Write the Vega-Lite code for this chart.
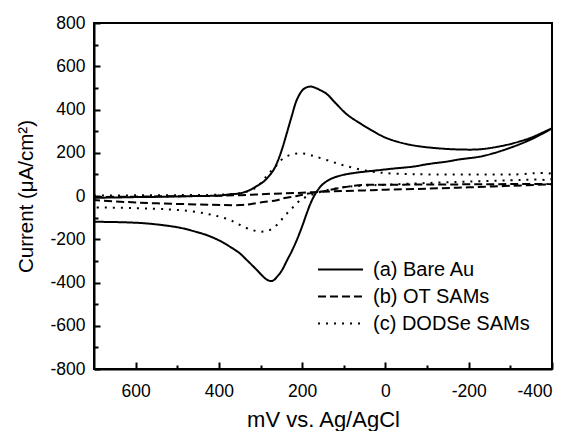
{
  "$schema": "https://vega.github.io/schema/vega-lite/v6.json",
  "width": 458,
  "height": 346,
  "autosize": {"type": "none"},
  "padding": {"left": 94, "top": 23, "right": 20, "bottom": 62},
  "background": "white",
  "config": {
    "font": "Liberation Sans",
    "view": {"stroke": "black", "strokeWidth": 2},
    "axis": {
      "grid": false,
      "domainColor": "black",
      "domainWidth": 2,
      "tickColor": "black",
      "tickWidth": 2,
      "labelColor": "black",
      "labelFontSize": 17.5,
      "titleColor": "black",
      "titleFontWeight": "normal",
      "labelExpr": "replace(datum.label, '−', '-')"
    }
  },
  "data": {"values": [
    {"s":"(a) Bare Au","i":1,"x":700,"y":-8},{"s":"(a) Bare Au","i":2,"x":650,"y":-7},{"s":"(a) Bare Au","i":3,"x":600,"y":-5},{"s":"(a) Bare Au","i":4,"x":550,"y":-4},{"s":"(a) Bare Au","i":5,"x":500,"y":-2},{"s":"(a) Bare Au","i":6,"x":450,"y":0},{"s":"(a) Bare Au","i":7,"x":400,"y":2},{"s":"(a) Bare Au","i":8,"x":373,"y":8},{"s":"(a) Bare Au","i":9,"x":350,"y":12},{"s":"(a) Bare Au","i":10,"x":325,"y":28},{"s":"(a) Bare Au","i":11,"x":310,"y":45},{"s":"(a) Bare Au","i":12,"x":293,"y":66},{"s":"(a) Bare Au","i":13,"x":280,"y":92},{"s":"(a) Bare Au","i":14,"x":269,"y":120},{"s":"(a) Bare Au","i":15,"x":259,"y":160},{"s":"(a) Bare Au","i":16,"x":249,"y":213},{"s":"(a) Bare Au","i":17,"x":237,"y":290},{"s":"(a) Bare Au","i":18,"x":225,"y":370},{"s":"(a) Bare Au","i":19,"x":213,"y":444},{"s":"(a) Bare Au","i":20,"x":200,"y":488},{"s":"(a) Bare Au","i":21,"x":190,"y":502},{"s":"(a) Bare Au","i":22,"x":179,"y":506},{"s":"(a) Bare Au","i":23,"x":168,"y":500},{"s":"(a) Bare Au","i":24,"x":155,"y":488},{"s":"(a) Bare Au","i":25,"x":141,"y":472},{"s":"(a) Bare Au","i":26,"x":120,"y":430},{"s":"(a) Bare Au","i":27,"x":93,"y":378},{"s":"(a) Bare Au","i":28,"x":60,"y":335},{"s":"(a) Bare Au","i":29,"x":30,"y":300},{"s":"(a) Bare Au","i":30,"x":0,"y":270},{"s":"(a) Bare Au","i":31,"x":-40,"y":245},{"s":"(a) Bare Au","i":32,"x":-80,"y":230},{"s":"(a) Bare Au","i":33,"x":-130,"y":220},{"s":"(a) Bare Au","i":34,"x":-180,"y":215},{"s":"(a) Bare Au","i":35,"x":-227,"y":216},{"s":"(a) Bare Au","i":36,"x":-270,"y":228},{"s":"(a) Bare Au","i":37,"x":-307,"y":244},{"s":"(a) Bare Au","i":38,"x":-350,"y":270},{"s":"(a) Bare Au","i":39,"x":-400,"y":313},
    {"s":"(a) Bare Au","i":40,"x":-350,"y":262},{"s":"(a) Bare Au","i":41,"x":-307,"y":228},{"s":"(a) Bare Au","i":42,"x":-260,"y":198},{"s":"(a) Bare Au","i":43,"x":-227,"y":182},{"s":"(a) Bare Au","i":44,"x":-180,"y":170},{"s":"(a) Bare Au","i":45,"x":-147,"y":159},{"s":"(a) Bare Au","i":46,"x":-100,"y":147},{"s":"(a) Bare Au","i":47,"x":-67,"y":136},{"s":"(a) Bare Au","i":48,"x":-20,"y":127},{"s":"(a) Bare Au","i":49,"x":13,"y":120},{"s":"(a) Bare Au","i":50,"x":61,"y":110},{"s":"(a) Bare Au","i":51,"x":90,"y":102},{"s":"(a) Bare Au","i":52,"x":109,"y":94},{"s":"(a) Bare Au","i":53,"x":130,"y":80},{"s":"(a) Bare Au","i":54,"x":149,"y":57},{"s":"(a) Bare Au","i":55,"x":160,"y":34},{"s":"(a) Bare Au","i":56,"x":169,"y":8},{"s":"(a) Bare Au","i":57,"x":179,"y":-30},{"s":"(a) Bare Au","i":58,"x":189,"y":-80},{"s":"(a) Bare Au","i":59,"x":200,"y":-140},{"s":"(a) Bare Au","i":60,"x":213,"y":-204},{"s":"(a) Bare Au","i":61,"x":225,"y":-255},{"s":"(a) Bare Au","i":62,"x":237,"y":-300},{"s":"(a) Bare Au","i":63,"x":249,"y":-345},{"s":"(a) Bare Au","i":64,"x":261,"y":-375},{"s":"(a) Bare Au","i":65,"x":267,"y":-387},{"s":"(a) Bare Au","i":66,"x":273,"y":-393},{"s":"(a) Bare Au","i":67,"x":280,"y":-391},{"s":"(a) Bare Au","i":68,"x":287,"y":-384},{"s":"(a) Bare Au","i":69,"x":293,"y":-374},{"s":"(a) Bare Au","i":70,"x":310,"y":-340},{"s":"(a) Bare Au","i":71,"x":333,"y":-296},{"s":"(a) Bare Au","i":72,"x":350,"y":-265},{"s":"(a) Bare Au","i":73,"x":373,"y":-235},{"s":"(a) Bare Au","i":74,"x":400,"y":-205},{"s":"(a) Bare Au","i":75,"x":429,"y":-181},{"s":"(a) Bare Au","i":76,"x":460,"y":-163},{"s":"(a) Bare Au","i":77,"x":493,"y":-147},{"s":"(a) Bare Au","i":78,"x":530,"y":-136},{"s":"(a) Bare Au","i":79,"x":573,"y":-127},{"s":"(a) Bare Au","i":80,"x":620,"y":-122},{"s":"(a) Bare Au","i":81,"x":700,"y":-119},

    {"s":"(b) OT SAMs","i":1,"x":700,"y":-5},{"s":"(b) OT SAMs","i":2,"x":600,"y":-3},{"s":"(b) OT SAMs","i":3,"x":500,"y":-1},{"s":"(b) OT SAMs","i":4,"x":400,"y":1},{"s":"(b) OT SAMs","i":5,"x":349,"y":4},{"s":"(b) OT SAMs","i":6,"x":300,"y":8},{"s":"(b) OT SAMs","i":7,"x":250,"y":12},{"s":"(b) OT SAMs","i":8,"x":200,"y":15},{"s":"(b) OT SAMs","i":9,"x":150,"y":20},{"s":"(b) OT SAMs","i":10,"x":100,"y":23},{"s":"(b) OT SAMs","i":11,"x":50,"y":26},{"s":"(b) OT SAMs","i":12,"x":0,"y":29},{"s":"(b) OT SAMs","i":13,"x":-100,"y":34},{"s":"(b) OT SAMs","i":14,"x":-200,"y":40},{"s":"(b) OT SAMs","i":15,"x":-300,"y":47},{"s":"(b) OT SAMs","i":16,"x":-400,"y":55},
    {"s":"(b) OT SAMs","i":17,"x":-300,"y":55},{"s":"(b) OT SAMs","i":18,"x":-200,"y":54},{"s":"(b) OT SAMs","i":19,"x":-100,"y":53},{"s":"(b) OT SAMs","i":20,"x":0,"y":52},{"s":"(b) OT SAMs","i":21,"x":65,"y":50},{"s":"(b) OT SAMs","i":22,"x":100,"y":40},{"s":"(b) OT SAMs","i":23,"x":133,"y":28},{"s":"(b) OT SAMs","i":24,"x":149,"y":22},{"s":"(b) OT SAMs","i":25,"x":189,"y":10},{"s":"(b) OT SAMs","i":26,"x":213,"y":0},{"s":"(b) OT SAMs","i":27,"x":245,"y":-10},{"s":"(b) OT SAMs","i":28,"x":261,"y":-20},{"s":"(b) OT SAMs","i":29,"x":293,"y":-28},{"s":"(b) OT SAMs","i":30,"x":325,"y":-38},{"s":"(b) OT SAMs","i":31,"x":349,"y":-42},{"s":"(b) OT SAMs","i":32,"x":389,"y":-42},{"s":"(b) OT SAMs","i":33,"x":450,"y":-39},{"s":"(b) OT SAMs","i":34,"x":549,"y":-34},{"s":"(b) OT SAMs","i":35,"x":620,"y":-28},{"s":"(b) OT SAMs","i":36,"x":700,"y":-19},

    {"s":"(c) DODSe SAMs","i":1,"x":700,"y":2},{"s":"(c) DODSe SAMs","i":2,"x":600,"y":3},{"s":"(c) DODSe SAMs","i":3,"x":500,"y":4},{"s":"(c) DODSe SAMs","i":4,"x":400,"y":6},{"s":"(c) DODSe SAMs","i":5,"x":360,"y":10},{"s":"(c) DODSe SAMs","i":6,"x":330,"y":22},{"s":"(c) DODSe SAMs","i":7,"x":310,"y":40},{"s":"(c) DODSe SAMs","i":8,"x":295,"y":70},{"s":"(c) DODSe SAMs","i":9,"x":280,"y":105},{"s":"(c) DODSe SAMs","i":10,"x":270,"y":125},{"s":"(c) DODSe SAMs","i":11,"x":261,"y":143},{"s":"(c) DODSe SAMs","i":12,"x":251,"y":165},{"s":"(c) DODSe SAMs","i":13,"x":241,"y":179},{"s":"(c) DODSe SAMs","i":14,"x":229,"y":190},{"s":"(c) DODSe SAMs","i":15,"x":217,"y":195},{"s":"(c) DODSe SAMs","i":16,"x":205,"y":197},{"s":"(c) DODSe SAMs","i":17,"x":193,"y":195},{"s":"(c) DODSe SAMs","i":18,"x":181,"y":190},{"s":"(c) DODSe SAMs","i":19,"x":169,"y":182},{"s":"(c) DODSe SAMs","i":20,"x":150,"y":172},{"s":"(c) DODSe SAMs","i":21,"x":129,"y":159},{"s":"(c) DODSe SAMs","i":22,"x":110,"y":147},{"s":"(c) DODSe SAMs","i":23,"x":89,"y":136},{"s":"(c) DODSe SAMs","i":24,"x":60,"y":122},{"s":"(c) DODSe SAMs","i":25,"x":30,"y":112},{"s":"(c) DODSe SAMs","i":26,"x":0,"y":106},{"s":"(c) DODSe SAMs","i":27,"x":-50,"y":102},{"s":"(c) DODSe SAMs","i":28,"x":-100,"y":100},{"s":"(c) DODSe SAMs","i":29,"x":-200,"y":99},{"s":"(c) DODSe SAMs","i":30,"x":-300,"y":99},{"s":"(c) DODSe SAMs","i":31,"x":-400,"y":100},
    {"s":"(c) DODSe SAMs","i":32,"x":-400,"y":80},{"s":"(c) DODSe SAMs","i":33,"x":-350,"y":76},{"s":"(c) DODSe SAMs","i":34,"x":-300,"y":73},{"s":"(c) DODSe SAMs","i":35,"x":-200,"y":67},{"s":"(c) DODSe SAMs","i":36,"x":-100,"y":60},{"s":"(c) DODSe SAMs","i":37,"x":0,"y":52},{"s":"(c) DODSe SAMs","i":38,"x":50,"y":48},{"s":"(c) DODSe SAMs","i":39,"x":90,"y":43},{"s":"(c) DODSe SAMs","i":40,"x":120,"y":35},{"s":"(c) DODSe SAMs","i":41,"x":150,"y":22},{"s":"(c) DODSe SAMs","i":42,"x":170,"y":10},{"s":"(c) DODSe SAMs","i":43,"x":185,"y":0},{"s":"(c) DODSe SAMs","i":44,"x":201,"y":-14},{"s":"(c) DODSe SAMs","i":45,"x":211,"y":-30},{"s":"(c) DODSe SAMs","i":46,"x":221,"y":-50},{"s":"(c) DODSe SAMs","i":47,"x":231,"y":-70},{"s":"(c) DODSe SAMs","i":48,"x":241,"y":-90},{"s":"(c) DODSe SAMs","i":49,"x":251,"y":-113},{"s":"(c) DODSe SAMs","i":50,"x":261,"y":-134},{"s":"(c) DODSe SAMs","i":51,"x":271,"y":-150},{"s":"(c) DODSe SAMs","i":52,"x":281,"y":-160},{"s":"(c) DODSe SAMs","i":53,"x":291,"y":-164},{"s":"(c) DODSe SAMs","i":54,"x":301,"y":-165},{"s":"(c) DODSe SAMs","i":55,"x":313,"y":-161},{"s":"(c) DODSe SAMs","i":56,"x":325,"y":-154},{"s":"(c) DODSe SAMs","i":57,"x":337,"y":-145},{"s":"(c) DODSe SAMs","i":58,"x":349,"y":-134},{"s":"(c) DODSe SAMs","i":59,"x":361,"y":-123},{"s":"(c) DODSe SAMs","i":60,"x":373,"y":-111},{"s":"(c) DODSe SAMs","i":61,"x":400,"y":-95},{"s":"(c) DODSe SAMs","i":62,"x":430,"y":-82},{"s":"(c) DODSe SAMs","i":63,"x":469,"y":-70},{"s":"(c) DODSe SAMs","i":64,"x":520,"y":-62},{"s":"(c) DODSe SAMs","i":65,"x":600,"y":-56},{"s":"(c) DODSe SAMs","i":66,"x":700,"y":-53}
  ]},
  "layer": [
    {
      "mark": {"type": "line", "color": "black", "strokeWidth": 2, "interpolate": "catmull-rom", "clip": true},
      "encoding": {
        "x": {"field": "x", "type": "quantitative", "scale": {"domain": [-400, 700], "reverse": true, "nice": false, "zero": false},
              "axis": {"orient": "bottom", "values": [600, 400, 200, 0, -200, -400], "ticks": false, "labelPadding": 13, "title": "mV vs. Ag/AgCl", "titleFontSize": 22, "titlePadding": 10}},
        "y": {"field": "y", "type": "quantitative", "scale": {"domain": [-800, 800], "nice": false, "zero": false},
              "axis": {"orient": "left", "values": [-800, -600, -400, -200, 0, 200, 400, 600, 800], "ticks": false, "labelPadding": 9, "title": "Current (μA/cm²)", "titleFontSize": 20.5, "titlePadding": 13}},
        "order": {"field": "i", "type": "quantitative"},
        "strokeDash": {"field": "s", "type": "nominal",
          "scale": {"domain": ["(a) Bare Au", "(b) OT SAMs", "(c) DODSe SAMs"], "range": [[1, 0], [8, 4], [2, 6]]},
          "legend": {"title": null, "orient": "none", "legendX": 236.5, "legendY": 236.5, "symbolType": "M-2.5,0H2.5", "symbolSize": 324, "symbolStrokeWidth": 2, "symbolStrokeColor": "black", "labelFontSize": 20, "labelColor": "black", "labelOffset": 22.5, "rowPadding": 7}}
      }
    },
    {
      "mark": {"type": "point", "opacity": 0},
      "encoding": {
        "x": {"field": "x", "type": "quantitative", "axis": {"orient": "bottom", "values": [600, 400, 200, 0, -200, -400], "tickSize": 7, "offset": -7, "labels": false, "domain": false, "title": null}},
        "y": {"field": "y", "type": "quantitative", "axis": {"orient": "left", "values": [-800, -600, -400, -200, 0, 200, 400, 600, 800], "tickSize": 6, "offset": -6, "labels": false, "domain": false, "title": null}}
      }
    },
    {
      "mark": {"type": "point", "opacity": 0},
      "encoding": {
        "x": {"field": "x", "type": "quantitative", "axis": {"orient": "bottom", "values": [500, 300, 100, -100, -300], "tickSize": 4, "offset": -4, "labels": false, "domain": false, "title": null}},
        "y": {"field": "y", "type": "quantitative", "axis": {"orient": "left", "values": [-700, -500, -300, -100, 100, 300, 500, 700], "tickSize": 4, "offset": -4, "labels": false, "domain": false, "title": null}}
      }
    }
  ],
  "resolve": {"axis": {"x": "independent", "y": "independent"}}
}
